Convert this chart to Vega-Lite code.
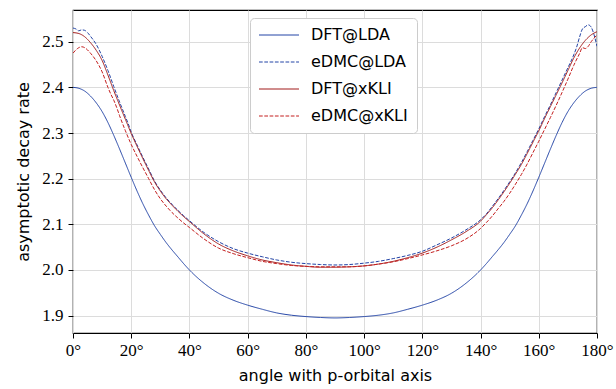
{
  "$schema": "https://vega.github.io/schema/vega-lite/v6.json",
  "width": 524,
  "height": 323,
  "autosize": {"type": "none"},
  "padding": {"left": 73, "top": 10, "right": 19, "bottom": 56},
  "background": "white",
  "data": {"values": [
    {"s":"DFT@LDA","a":0,"v":2.400},{"s":"DFT@LDA","a":2,"v":2.398},{"s":"DFT@LDA","a":4,"v":2.392},{"s":"DFT@LDA","a":6,"v":2.381},{"s":"DFT@LDA","a":8,"v":2.366},{"s":"DFT@LDA","a":10,"v":2.347},{"s":"DFT@LDA","a":12,"v":2.323},{"s":"DFT@LDA","a":14,"v":2.295},{"s":"DFT@LDA","a":16,"v":2.265},{"s":"DFT@LDA","a":18,"v":2.234},{"s":"DFT@LDA","a":20,"v":2.203},{"s":"DFT@LDA","a":22,"v":2.173},{"s":"DFT@LDA","a":24,"v":2.145},{"s":"DFT@LDA","a":26,"v":2.120},{"s":"DFT@LDA","a":28,"v":2.097},{"s":"DFT@LDA","a":30,"v":2.078},{"s":"DFT@LDA","a":32,"v":2.060},{"s":"DFT@LDA","a":34,"v":2.044},{"s":"DFT@LDA","a":36,"v":2.029},{"s":"DFT@LDA","a":38,"v":2.014},{"s":"DFT@LDA","a":40,"v":2.000},{"s":"DFT@LDA","a":45,"v":1.971},{"s":"DFT@LDA","a":50,"v":1.949},{"s":"DFT@LDA","a":55,"v":1.934},{"s":"DFT@LDA","a":60,"v":1.923},{"s":"DFT@LDA","a":65,"v":1.914},{"s":"DFT@LDA","a":70,"v":1.906},{"s":"DFT@LDA","a":75,"v":1.901},{"s":"DFT@LDA","a":80,"v":1.898},{"s":"DFT@LDA","a":85,"v":1.896},{"s":"DFT@LDA","a":90,"v":1.895},{"s":"DFT@LDA","a":95,"v":1.896},{"s":"DFT@LDA","a":100,"v":1.898},{"s":"DFT@LDA","a":105,"v":1.901},{"s":"DFT@LDA","a":110,"v":1.906},{"s":"DFT@LDA","a":115,"v":1.914},{"s":"DFT@LDA","a":120,"v":1.923},{"s":"DFT@LDA","a":125,"v":1.934},{"s":"DFT@LDA","a":130,"v":1.949},{"s":"DFT@LDA","a":135,"v":1.971},{"s":"DFT@LDA","a":140,"v":2.000},{"s":"DFT@LDA","a":142,"v":2.014},{"s":"DFT@LDA","a":144,"v":2.029},{"s":"DFT@LDA","a":146,"v":2.044},{"s":"DFT@LDA","a":148,"v":2.060},{"s":"DFT@LDA","a":150,"v":2.078},{"s":"DFT@LDA","a":152,"v":2.097},{"s":"DFT@LDA","a":154,"v":2.120},{"s":"DFT@LDA","a":156,"v":2.145},{"s":"DFT@LDA","a":158,"v":2.173},{"s":"DFT@LDA","a":160,"v":2.203},{"s":"DFT@LDA","a":162,"v":2.234},{"s":"DFT@LDA","a":164,"v":2.265},{"s":"DFT@LDA","a":166,"v":2.295},{"s":"DFT@LDA","a":168,"v":2.323},{"s":"DFT@LDA","a":170,"v":2.347},{"s":"DFT@LDA","a":172,"v":2.366},{"s":"DFT@LDA","a":174,"v":2.381},{"s":"DFT@LDA","a":176,"v":2.392},{"s":"DFT@LDA","a":178,"v":2.398},{"s":"DFT@LDA","a":180,"v":2.400},

    {"s":"eDMC@LDA","a":0,"v":2.530},{"s":"eDMC@LDA","a":1,"v":2.528},{"s":"eDMC@LDA","a":2,"v":2.524},{"s":"eDMC@LDA","a":3,"v":2.526},{"s":"eDMC@LDA","a":4,"v":2.525},{"s":"eDMC@LDA","a":5,"v":2.520},{"s":"eDMC@LDA","a":6,"v":2.512},{"s":"eDMC@LDA","a":8,"v":2.494},{"s":"eDMC@LDA","a":10,"v":2.468},{"s":"eDMC@LDA","a":12,"v":2.437},{"s":"eDMC@LDA","a":14,"v":2.402},{"s":"eDMC@LDA","a":16,"v":2.368},{"s":"eDMC@LDA","a":17,"v":2.352},{"s":"eDMC@LDA","a":18,"v":2.336},{"s":"eDMC@LDA","a":19,"v":2.320},{"s":"eDMC@LDA","a":20,"v":2.302},{"s":"eDMC@LDA","a":22,"v":2.274},{"s":"eDMC@LDA","a":24,"v":2.247},{"s":"eDMC@LDA","a":26,"v":2.221},{"s":"eDMC@LDA","a":28,"v":2.195},{"s":"eDMC@LDA","a":30,"v":2.175},{"s":"eDMC@LDA","a":32,"v":2.158},{"s":"eDMC@LDA","a":34,"v":2.144},{"s":"eDMC@LDA","a":36,"v":2.131},{"s":"eDMC@LDA","a":38,"v":2.119},{"s":"eDMC@LDA","a":40,"v":2.108},{"s":"eDMC@LDA","a":45,"v":2.082},{"s":"eDMC@LDA","a":50,"v":2.062},{"s":"eDMC@LDA","a":55,"v":2.047},{"s":"eDMC@LDA","a":60,"v":2.037},{"s":"eDMC@LDA","a":65,"v":2.029},{"s":"eDMC@LDA","a":70,"v":2.022},{"s":"eDMC@LDA","a":75,"v":2.017},{"s":"eDMC@LDA","a":80,"v":2.014},{"s":"eDMC@LDA","a":85,"v":2.012},{"s":"eDMC@LDA","a":90,"v":2.011},{"s":"eDMC@LDA","a":95,"v":2.012},{"s":"eDMC@LDA","a":100,"v":2.015},{"s":"eDMC@LDA","a":105,"v":2.019},{"s":"eDMC@LDA","a":110,"v":2.025},{"s":"eDMC@LDA","a":115,"v":2.032},{"s":"eDMC@LDA","a":120,"v":2.041},{"s":"eDMC@LDA","a":125,"v":2.055},{"s":"eDMC@LDA","a":130,"v":2.070},{"s":"eDMC@LDA","a":135,"v":2.088},{"s":"eDMC@LDA","a":140,"v":2.110},{"s":"eDMC@LDA","a":142,"v":2.123},{"s":"eDMC@LDA","a":144,"v":2.139},{"s":"eDMC@LDA","a":146,"v":2.156},{"s":"eDMC@LDA","a":148,"v":2.174},{"s":"eDMC@LDA","a":150,"v":2.193},{"s":"eDMC@LDA","a":152,"v":2.213},{"s":"eDMC@LDA","a":154,"v":2.235},{"s":"eDMC@LDA","a":156,"v":2.259},{"s":"eDMC@LDA","a":158,"v":2.284},{"s":"eDMC@LDA","a":160,"v":2.309},{"s":"eDMC@LDA","a":162,"v":2.336},{"s":"eDMC@LDA","a":164,"v":2.362},{"s":"eDMC@LDA","a":166,"v":2.389},{"s":"eDMC@LDA","a":168,"v":2.416},{"s":"eDMC@LDA","a":170,"v":2.443},{"s":"eDMC@LDA","a":172,"v":2.471},{"s":"eDMC@LDA","a":173,"v":2.488},{"s":"eDMC@LDA","a":174,"v":2.510},{"s":"eDMC@LDA","a":175,"v":2.528},{"s":"eDMC@LDA","a":176,"v":2.533},{"s":"eDMC@LDA","a":177,"v":2.537},{"s":"eDMC@LDA","a":178,"v":2.532},{"s":"eDMC@LDA","a":179,"v":2.515},{"s":"eDMC@LDA","a":180,"v":2.490},

    {"s":"DFT@xKLI","a":0,"v":2.520},{"s":"DFT@xKLI","a":2,"v":2.518},{"s":"DFT@xKLI","a":4,"v":2.511},{"s":"DFT@xKLI","a":6,"v":2.498},{"s":"DFT@xKLI","a":8,"v":2.481},{"s":"DFT@xKLI","a":10,"v":2.459},{"s":"DFT@xKLI","a":12,"v":2.427},{"s":"DFT@xKLI","a":14,"v":2.393},{"s":"DFT@xKLI","a":16,"v":2.361},{"s":"DFT@xKLI","a":18,"v":2.330},{"s":"DFT@xKLI","a":20,"v":2.299},{"s":"DFT@xKLI","a":22,"v":2.271},{"s":"DFT@xKLI","a":24,"v":2.244},{"s":"DFT@xKLI","a":26,"v":2.218},{"s":"DFT@xKLI","a":28,"v":2.193},{"s":"DFT@xKLI","a":30,"v":2.173},{"s":"DFT@xKLI","a":32,"v":2.156},{"s":"DFT@xKLI","a":34,"v":2.142},{"s":"DFT@xKLI","a":36,"v":2.129},{"s":"DFT@xKLI","a":38,"v":2.117},{"s":"DFT@xKLI","a":40,"v":2.106},{"s":"DFT@xKLI","a":45,"v":2.079},{"s":"DFT@xKLI","a":50,"v":2.057},{"s":"DFT@xKLI","a":55,"v":2.042},{"s":"DFT@xKLI","a":60,"v":2.031},{"s":"DFT@xKLI","a":65,"v":2.022},{"s":"DFT@xKLI","a":70,"v":2.016},{"s":"DFT@xKLI","a":75,"v":2.011},{"s":"DFT@xKLI","a":80,"v":2.008},{"s":"DFT@xKLI","a":85,"v":2.006},{"s":"DFT@xKLI","a":90,"v":2.006},{"s":"DFT@xKLI","a":95,"v":2.007},{"s":"DFT@xKLI","a":100,"v":2.009},{"s":"DFT@xKLI","a":105,"v":2.013},{"s":"DFT@xKLI","a":110,"v":2.019},{"s":"DFT@xKLI","a":115,"v":2.027},{"s":"DFT@xKLI","a":120,"v":2.037},{"s":"DFT@xKLI","a":125,"v":2.050},{"s":"DFT@xKLI","a":130,"v":2.066},{"s":"DFT@xKLI","a":135,"v":2.084},{"s":"DFT@xKLI","a":140,"v":2.107},{"s":"DFT@xKLI","a":142,"v":2.121},{"s":"DFT@xKLI","a":144,"v":2.136},{"s":"DFT@xKLI","a":146,"v":2.153},{"s":"DFT@xKLI","a":148,"v":2.171},{"s":"DFT@xKLI","a":150,"v":2.190},{"s":"DFT@xKLI","a":152,"v":2.210},{"s":"DFT@xKLI","a":154,"v":2.231},{"s":"DFT@xKLI","a":156,"v":2.255},{"s":"DFT@xKLI","a":158,"v":2.280},{"s":"DFT@xKLI","a":160,"v":2.305},{"s":"DFT@xKLI","a":162,"v":2.332},{"s":"DFT@xKLI","a":164,"v":2.358},{"s":"DFT@xKLI","a":166,"v":2.384},{"s":"DFT@xKLI","a":168,"v":2.410},{"s":"DFT@xKLI","a":170,"v":2.437},{"s":"DFT@xKLI","a":172,"v":2.464},{"s":"DFT@xKLI","a":174,"v":2.486},{"s":"DFT@xKLI","a":176,"v":2.503},{"s":"DFT@xKLI","a":178,"v":2.515},{"s":"DFT@xKLI","a":180,"v":2.522},

    {"s":"eDMC@xKLI","a":0,"v":2.475},{"s":"eDMC@xKLI","a":1,"v":2.482},{"s":"eDMC@xKLI","a":2,"v":2.487},{"s":"eDMC@xKLI","a":3,"v":2.489},{"s":"eDMC@xKLI","a":4,"v":2.487},{"s":"eDMC@xKLI","a":5,"v":2.482},{"s":"eDMC@xKLI","a":6,"v":2.475},{"s":"eDMC@xKLI","a":8,"v":2.458},{"s":"eDMC@xKLI","a":10,"v":2.434},{"s":"eDMC@xKLI","a":12,"v":2.400},{"s":"eDMC@xKLI","a":13,"v":2.385},{"s":"eDMC@xKLI","a":14,"v":2.372},{"s":"eDMC@xKLI","a":15,"v":2.356},{"s":"eDMC@xKLI","a":16,"v":2.338},{"s":"eDMC@xKLI","a":18,"v":2.305},{"s":"eDMC@xKLI","a":20,"v":2.275},{"s":"eDMC@xKLI","a":22,"v":2.249},{"s":"eDMC@xKLI","a":24,"v":2.224},{"s":"eDMC@xKLI","a":26,"v":2.200},{"s":"eDMC@xKLI","a":28,"v":2.176},{"s":"eDMC@xKLI","a":30,"v":2.156},{"s":"eDMC@xKLI","a":32,"v":2.140},{"s":"eDMC@xKLI","a":34,"v":2.126},{"s":"eDMC@xKLI","a":36,"v":2.114},{"s":"eDMC@xKLI","a":38,"v":2.103},{"s":"eDMC@xKLI","a":40,"v":2.093},{"s":"eDMC@xKLI","a":45,"v":2.068},{"s":"eDMC@xKLI","a":50,"v":2.048},{"s":"eDMC@xKLI","a":55,"v":2.036},{"s":"eDMC@xKLI","a":60,"v":2.027},{"s":"eDMC@xKLI","a":65,"v":2.019},{"s":"eDMC@xKLI","a":70,"v":2.014},{"s":"eDMC@xKLI","a":75,"v":2.010},{"s":"eDMC@xKLI","a":80,"v":2.008},{"s":"eDMC@xKLI","a":85,"v":2.007},{"s":"eDMC@xKLI","a":90,"v":2.007},{"s":"eDMC@xKLI","a":95,"v":2.007},{"s":"eDMC@xKLI","a":100,"v":2.009},{"s":"eDMC@xKLI","a":105,"v":2.013},{"s":"eDMC@xKLI","a":110,"v":2.018},{"s":"eDMC@xKLI","a":115,"v":2.025},{"s":"eDMC@xKLI","a":120,"v":2.033},{"s":"eDMC@xKLI","a":125,"v":2.042},{"s":"eDMC@xKLI","a":130,"v":2.053},{"s":"eDMC@xKLI","a":135,"v":2.068},{"s":"eDMC@xKLI","a":140,"v":2.091},{"s":"eDMC@xKLI","a":142,"v":2.104},{"s":"eDMC@xKLI","a":144,"v":2.118},{"s":"eDMC@xKLI","a":146,"v":2.134},{"s":"eDMC@xKLI","a":148,"v":2.150},{"s":"eDMC@xKLI","a":150,"v":2.168},{"s":"eDMC@xKLI","a":152,"v":2.188},{"s":"eDMC@xKLI","a":154,"v":2.209},{"s":"eDMC@xKLI","a":156,"v":2.232},{"s":"eDMC@xKLI","a":158,"v":2.257},{"s":"eDMC@xKLI","a":160,"v":2.282},{"s":"eDMC@xKLI","a":162,"v":2.308},{"s":"eDMC@xKLI","a":164,"v":2.334},{"s":"eDMC@xKLI","a":166,"v":2.361},{"s":"eDMC@xKLI","a":168,"v":2.389},{"s":"eDMC@xKLI","a":170,"v":2.418},{"s":"eDMC@xKLI","a":172,"v":2.448},{"s":"eDMC@xKLI","a":174,"v":2.474},{"s":"eDMC@xKLI","a":175,"v":2.487},{"s":"eDMC@xKLI","a":176,"v":2.485},{"s":"eDMC@xKLI","a":177,"v":2.490},{"s":"eDMC@xKLI","a":178,"v":2.500},{"s":"eDMC@xKLI","a":179,"v":2.508},{"s":"eDMC@xKLI","a":180,"v":2.515}
  ]},
  "mark": {"type": "line", "strokeWidth": 1, "interpolate": "monotone", "clip": true},
  "encoding": {
    "x": {
      "field": "a", "type": "quantitative",
      "scale": {"domain": [0, 180], "nice": false},
      "axis": {
        "values": [0, 20, 40, 60, 80, 100, 120, 140, 160, 180],
        "labelExpr": "datum.value + '°'",
        "labelFlush": false,
        "labelOverlap": false,
        "labelFont": "Liberation Serif",
        "labelFontSize": 17,
        "labelPadding": 4,
        "title": "angle with p-orbital axis",
        "titlePadding": 9
      }
    },
    "y": {
      "field": "v", "type": "quantitative",
      "scale": {"domain": [1.862, 2.5695], "nice": false, "zero": false},
      "axis": {
        "values": [1.9, 2.0, 2.1, 2.2, 2.3, 2.4, 2.5],
        "format": ".1f",
        "labelFlush": false,
        "labelOverlap": false,
        "labelFont": "Liberation Serif",
        "labelFontSize": 17,
        "labelPadding": 5,
        "title": "asymptotic decay rate",
        "titlePadding": 10
      }
    },
    "color": {
      "field": "s", "type": "nominal",
      "scale": {
        "domain": ["DFT@LDA", "eDMC@LDA", "DFT@xKLI", "eDMC@xKLI"],
        "range": ["#2344a6", "#2344a6", "#a11a1a", "#c41e1e"]
      },
      "legend": {"title": null}
    },
    "strokeDash": {
      "field": "s", "type": "nominal",
      "scale": {
        "domain": ["DFT@LDA", "eDMC@LDA", "DFT@xKLI", "eDMC@xKLI"],
        "range": [[1, 0], [3.7, 1.6], [1, 0], [3.7, 1.6]]
      },
      "legend": {"title": null}
    }
  },
  "config": {
    "view": {"stroke": "black", "strokeWidth": 1.2},
    "axis": {
      "domain": false,
      "grid": true,
      "gridColor": "#dcdcdc",
      "gridWidth": 1,
      "tickColor": "black",
      "tickSize": 5,
      "tickWidth": 1,
      "labelColor": "black",
      "titleFont": "DejaVu Sans",
      "titleFontSize": 16,
      "titleFontWeight": "normal",
      "titleColor": "black"
    },
    "legend": {
      "orient": "none",
      "legendX": 177,
      "legendY": 8,
      "padding": 9,
      "strokeColor": "#cccccc",
      "fillColor": "white",
      "cornerRadius": 4,
      "symbolType": "M-1.6,0H6.4",
      "symbolSize": 100,
      "symbolStrokeWidth": 1,
      "labelFont": "DejaVu Sans",
      "labelFontSize": 16,
      "labelColor": "black",
      "labelOffset": 36,
      "rowPadding": 11
    }
  }
}
